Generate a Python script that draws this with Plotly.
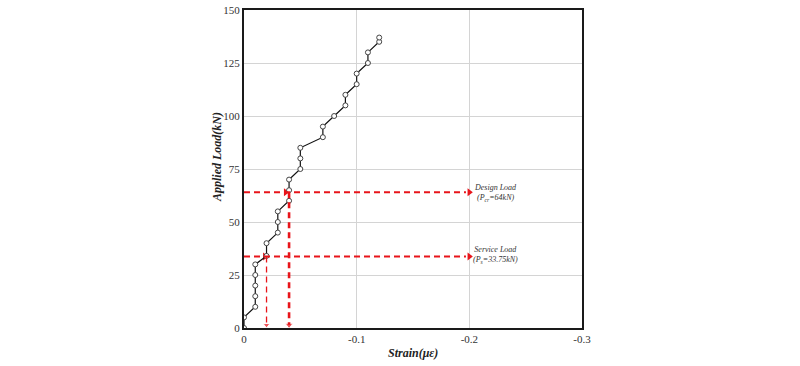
import plotly.graph_objects as go

# ---- data ----
strain = [0, 0, -0.01, -0.01, -0.01, -0.01, -0.01, -0.02, -0.02, -0.03, -0.03, -0.03,
          -0.04, -0.04, -0.04, -0.05, -0.05, -0.05, -0.07, -0.07, -0.08, -0.09, -0.09,
          -0.10, -0.10, -0.11, -0.11, -0.12, -0.12]
load = [0, 5, 10, 15, 20, 25, 30, 34, 40, 45, 50, 55,
        60, 65, 70, 75, 80, 85, 90, 95, 100, 105, 110,
        115, 120, 125, 130, 135, 137]

x_ticks = [0, -0.1, -0.2, -0.3]
x_tick_labels = ["0", "-0.1", "-0.2", "-0.3"]
y_ticks = [0, 25, 50, 75, 100, 125, 150]

design_load = 64
design_strain = -0.04
service_load = 33.75
service_strain = -0.02
arrow_end_strain = -0.2

RED = "#e8141a"
SERIF = "Liberation Serif"

L, R, T, B = 244, 218, 10, 38
W, H = 800, 366
pw, ph = W - L - R, H - T - B

fig = go.Figure()

shapes = []
for yv in [design_load, service_load]:
    shapes.append(dict(type="line", xref="x", yref="y", x0=0, x1=arrow_end_strain + 0.003,
                       y0=yv, y1=yv, line=dict(color=RED, width=2, dash="6px,4px")))
shapes.append(dict(type="line", xref="x", yref="y", x0=service_strain, x1=service_strain,
                   y0=service_load, y1=1.5, line=dict(color=RED, width=1.3, dash="6px,4px")))
shapes.append(dict(type="line", xref="x", yref="y", x0=design_strain, x1=design_strain,
                   y0=design_load, y1=1.5, line=dict(color=RED, width=2.6, dash="6px,4px")))

# arrowheads as markers
fig.add_trace(go.Scatter(
    x=[arrow_end_strain, arrow_end_strain, design_strain + 0.003, service_strain + 0.0015],
    y=[design_load, service_load, design_load, service_load],
    mode="markers", marker=dict(symbol="triangle-right", size=7, color=RED),
    showlegend=False, hoverinfo="skip"))
fig.add_trace(go.Scatter(
    x=[service_strain, design_strain], y=[1.4, 1.4],
    mode="markers", marker=dict(symbol="triangle-down", size=[6, 7], color=RED),
    showlegend=False, hoverinfo="skip"))

fig.add_trace(go.Scatter(
    x=strain, y=load, mode="lines+markers",
    line=dict(color="#111111", width=1.2),
    marker=dict(symbol="circle", size=5, color="white",
                line=dict(color="#444444", width=1)),
    showlegend=False, hoverinfo="skip"))

annotations = [
    dict(x=-0.2235, y=design_load - 0.3, xref="x", yref="y", xanchor="center", yanchor="middle",
         text="<i>Design Load<br>(P<sub>cr</sub>=64kN)</i>", showarrow=False,
         font=dict(family=SERIF, size=8, color="#333333"), align="center"),
    dict(x=-0.2235, y=service_load + 0.6, xref="x", yref="y", xanchor="center", yanchor="middle",
         text="<i>Service Load<br>(P<sub>s</sub>=33.75kN)</i>", showarrow=False,
         font=dict(family=SERIF, size=8, color="#333333"), align="center"),
    dict(x=(217 - L) / pw, y=(H - B - 157) / ph, xref="paper", yref="paper",
         xanchor="center", yanchor="middle",
         text="<b><i>Applied Load(kN)</i></b>", showarrow=False, textangle=-90,
         font=dict(family=SERIF, size=12, color="#222222")),
    dict(x=0.5, y=(H - B - 353) / ph, xref="paper", yref="paper",
         xanchor="center", yanchor="middle",
         text="<b><i>Strain(με)</i></b>", showarrow=False,
         font=dict(family=SERIF, size=12, color="#222222")),
]

fig.update_layout(
    width=W, height=H,
    margin=dict(l=L, r=R, t=T, b=B, pad=0),
    plot_bgcolor="white", paper_bgcolor="white",
    shapes=shapes, annotations=annotations,
    xaxis=dict(range=[0, -0.3], tickvals=x_ticks, ticktext=x_tick_labels,
               showgrid=True, gridcolor="#d4d4d4", gridwidth=1, zeroline=False,
               showline=True, linecolor="#1a1a1a", linewidth=2, mirror=True,
               ticks="", automargin=False,
               tickfont=dict(family=SERIF, size=11, color="#333333")),
    yaxis=dict(range=[0, 150], tickvals=y_ticks,
               showgrid=True, gridcolor="#d4d4d4", gridwidth=1, zeroline=False,
               showline=True, linecolor="#1a1a1a", linewidth=2, mirror=True,
               ticks="", automargin=False,
               tickfont=dict(family=SERIF, size=11, color="#333333")),
)

fig.write_html("out.html", config={"displayModeBar": False},
               post_script="document.body.style.margin='0';document.body.style.overflow='hidden';")
